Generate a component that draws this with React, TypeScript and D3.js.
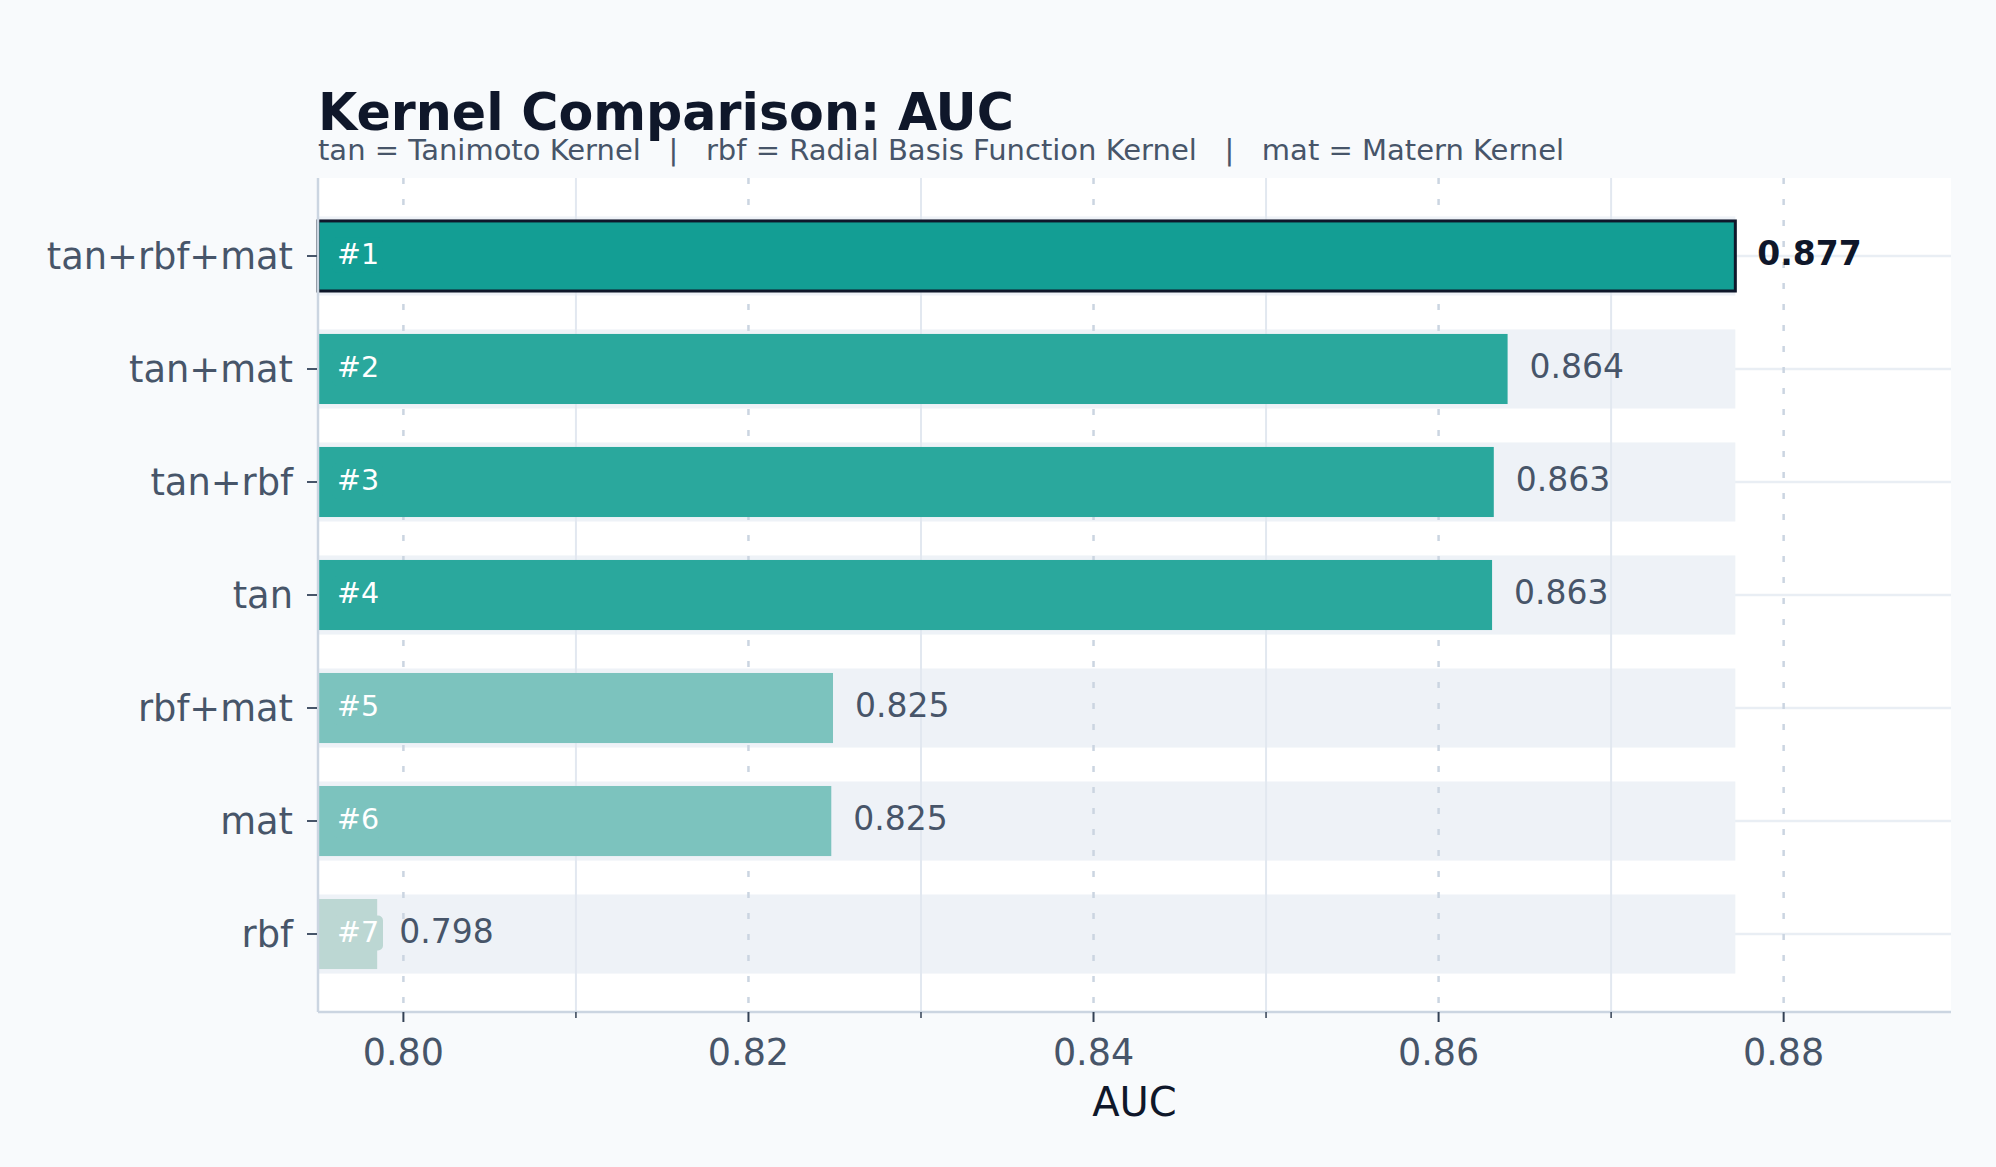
import * as d3 from 'd3';
import React from 'react';

// kernel combinations, ranked by AUC
const categories = ['tan+rbf+mat', 'tan+mat', 'tan+rbf', 'tan', 'rbf+mat', 'mat', 'rbf'];
const aucValues = [0.8772, 0.864, 0.8632, 0.8631, 0.8249, 0.8248, 0.79848];
const rankLabels = ['#1', '#2', '#3', '#4', '#5', '#6', '#7'];

const titleText = 'Kernel Comparison: AUC';
const subtitleText = 'tan = Tanimoto Kernel   |   rbf = Radial Basis Function Kernel   |   mat = Matern Kernel';
const xLabel = 'AUC';

const W = 1996;
const H = 1167;
const FONT = '"DejaVu Sans", Verdana, sans-serif';

const margin = { top: 178, right: 45, bottom: 155, left: 318 };

const barColor = (v: number, i: number) => {
  if (i === 0) return '#139e94';
  if (v >= 0.85) return '#2aa89d';
  if (v >= 0.82) return '#7cc3be';
  return '#bcd7d3';
};

const App: React.FC = () => {
  const x0 = margin.left;
  const x1 = W - margin.right;
  const y0 = margin.top;
  const y1 = H - margin.bottom;

  const maxVal = d3.max(aucValues) ?? 0;

  const x = d3.scaleLinear().domain([0.79505, 0.8897]).range([x0, x1]);
  const y = d3.scaleBand<string>().domain(categories).range([y0, y1]).paddingInner(0).paddingOuter(0.19);

  const step = y.step();
  const barH = step * 0.62;
  const bandH = step * 0.7;

  const major = x.ticks(5);
  const minor = x.ticks(10).filter(t => !major.some(m => Math.abs(m - t) < 1e-9));
  const fmt = d3.format('.2f');
  const fmtVal = d3.format('.3f');

  const cy = (c: string) => (y(c) ?? 0) + step / 2;

  return (
    <svg
      width={W}
      height={H}
      style={{ position: 'absolute', left: 0, top: 0, display: 'block', fontFamily: FONT }}
    >
      <rect x={0} y={0} width={W} height={H} fill="#f8fafc" />
      <rect x={x0} y={y0} width={x1 - x0} height={y1 - y0} fill="#ffffff" />

      {/* horizontal row lines sit beneath the bands */}
      {categories.map(c => (
        <line key={'hg' + c} x1={x0} x2={x1} y1={cy(c)} y2={cy(c)} stroke="#e9eef4" strokeWidth={2.5} />
      ))}

      {/* background track for each row */}
      {categories.map(c => (
        <rect
          key={'bg' + c}
          x={x0}
          y={cy(c) - bandH / 2}
          width={x(maxVal) - x0}
          height={bandH}
          fill="#eef2f7"
        />
      ))}

      {/* vertical grid */}
      {minor.map(t => (
        <line key={'mg' + t} x1={x(t)} x2={x(t)} y1={y0} y2={y1} stroke="#e2e8f0" strokeWidth={2} />
      ))}
      {major.map(t => (
        <line
          key={'g' + t}
          x1={x(t)}
          x2={x(t)}
          y1={y0}
          y2={y1}
          stroke="#cbd5e1"
          strokeWidth={2.5}
          strokeDasharray="6 15"
        />
      ))}

      {/* bars */}
      {categories.map((c, i) => {
        const v = aucValues[i];
        const top = i === 0;
        return (
          <g key={'bar' + c}>
            <rect
              x={x0}
              y={cy(c) - barH / 2}
              width={x(v) - x0}
              height={barH}
              fill={barColor(v, i)}
              stroke={top ? '#0f172a' : 'none'}
              strokeWidth={top ? 3 : 0}
            />
            <rect
              x={x0 + 14}
              y={cy(c) - 18.5}
              width={51}
              height={35}
              rx={5}
              fill={barColor(v, i)}
            />
            <text
              x={x0 + 19}
              y={cy(c)}
              dy="0.28em"
              fontSize={28.5}
              fill="#ffffff"
            >
              {rankLabels[i]}
            </text>
            <text
              x={x(v) + 22}
              y={cy(c)}
              dy="0.28em"
              fontSize={33}
              fontWeight={top ? 'bold' : 'normal'}
              fill={top ? '#0f172a' : '#475569'}
            >
              {fmtVal(v)}
            </text>
          </g>
        );
      })}

      {/* spines */}
      <line x1={x0} x2={x0} y1={y0} y2={y1} stroke="#cbd5e1" strokeWidth={2.5} />
      <line x1={x0} x2={x1} y1={y1} y2={y1} stroke="#cbd5e1" strokeWidth={2.5} />

      {/* x axis */}
      {major.map(t => (
        <g key={'xt' + t}>
          <line x1={x(t)} x2={x(t)} y1={y1} y2={y1 + 10} stroke="#334155" strokeWidth={2} />
          <text x={x(t)} y={1065} textAnchor="middle" fontSize={36.5} fill="#475569">
            {fmt(t)}
          </text>
        </g>
      ))}
      {minor.map(t => (
        <line key={'xm' + t} x1={x(t)} x2={x(t)} y1={y1} y2={y1 + 6} stroke="#334155" strokeWidth={1.5} />
      ))}
      <text x={(x0 + x1) / 2} y={1116} textAnchor="middle" fontSize={40} fill="#0f172a">
        {xLabel}
      </text>

      {/* y axis */}
      {categories.map(c => (
        <g key={'yt' + c}>
          <line x1={x0 - 11} x2={x0 - 1} y1={cy(c)} y2={cy(c)} stroke="#475569" strokeWidth={2} />
          <text x={x0 - 25} y={cy(c)} dy="0.36em" textAnchor="end" fontSize={36.8} fill="#475569">
            {c}
          </text>
        </g>
      ))}

      {/* titles */}
      <text x={x0} y={130} fontSize={50.7} fontWeight="bold" fill="#0f172a">
        {titleText}
      </text>
      <text x={x0} y={160} fontSize={29} fill="#475569" style={{ whiteSpace: 'pre' }}>
        {subtitleText}
      </text>
    </svg>
  );
};

export default App;
